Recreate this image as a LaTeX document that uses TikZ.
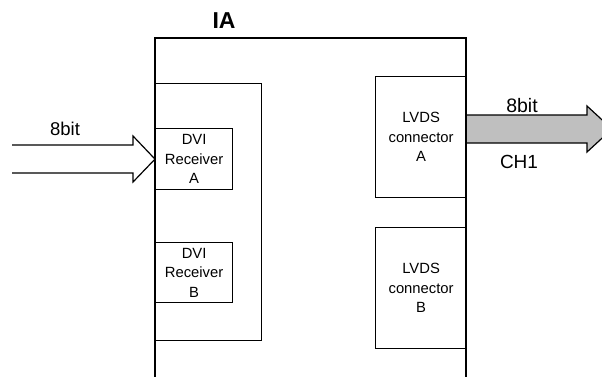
\documentclass[tikz,border=0pt]{standalone}
\usepackage{fontspec}
\setmainfont{Liberation Sans}
\begin{document}
\begin{tikzpicture}[x=1pt,y=-1pt,
  blk/.style={draw,line width=1.2pt,rectangle,anchor=north west,inner sep=0pt,align=center,font=\fontsize{14.8}{19.5}\selectfont},
  lbl/.style={inner sep=0pt,font=\fontsize{18.5}{20}\selectfont},
  ln/.style={line width=1.2pt}]
\useasboundingbox (0,0) rectangle (602,376);
\clip (0,0) rectangle (602,376);
% outer IA frame
\coordinate (obl) at (155,380);
\coordinate (otl) at (155,38);
\coordinate (otr) at (466,38);
\coordinate (obr) at (466,380);
\draw[ln] (obl) -- (otl) -- (otr) -- (obr);
\node[inner sep=0pt,font=\fontsize{23}{25}\selectfont\bfseries] (ia) at (224,21) {IA};
% inner box
\node[blk,minimum width=106pt,minimum height=257pt] (inner) at (155,83) {};
% DVI receivers
\node[blk,minimum width=77pt,minimum height=61pt] (dviA) at (155,128) {DVI\\Receiver\\A};
\node[blk,minimum width=77pt,minimum height=60pt] (dviB) at (155,242) {DVI\\Receiver\\B};
% LVDS connectors
\node[blk,minimum width=91pt,minimum height=121pt] (lvdsA) at (375,76) {LVDS\\connector\\A};
\node[blk,minimum width=91pt,minimum height=121pt] (lvdsB) at (375,227) {LVDS\\connector\\B};
% input hollow arrow
\coordinate (inT) at (12,145);
\coordinate (inB) at (12,173);
\draw[ln,line join=miter] (inT) -- (133,145) -- (133,136) -- (dviA.west) -- (133,182) -- (133,173) -- (inB);
\node[lbl] (in8) at (65,129) {8bit};
% output grey arrow
\coordinate (outTip) at (612,129);
\draw[ln,fill=black!25,line join=miter] (lvdsA.east |- 0,115) -- (587,115) -- (587,106) -- (outTip) -- (587,152) -- (587,143) -- (lvdsA.east |- 0,143);
\node[lbl,font=\fontsize{19.5}{21}\selectfont] (out8) at (522,106) {8bit};
\node[lbl,font=\fontsize{19}{21}\selectfont] (ch1) at (519,162) {CH1};
\end{tikzpicture}
\end{document}
